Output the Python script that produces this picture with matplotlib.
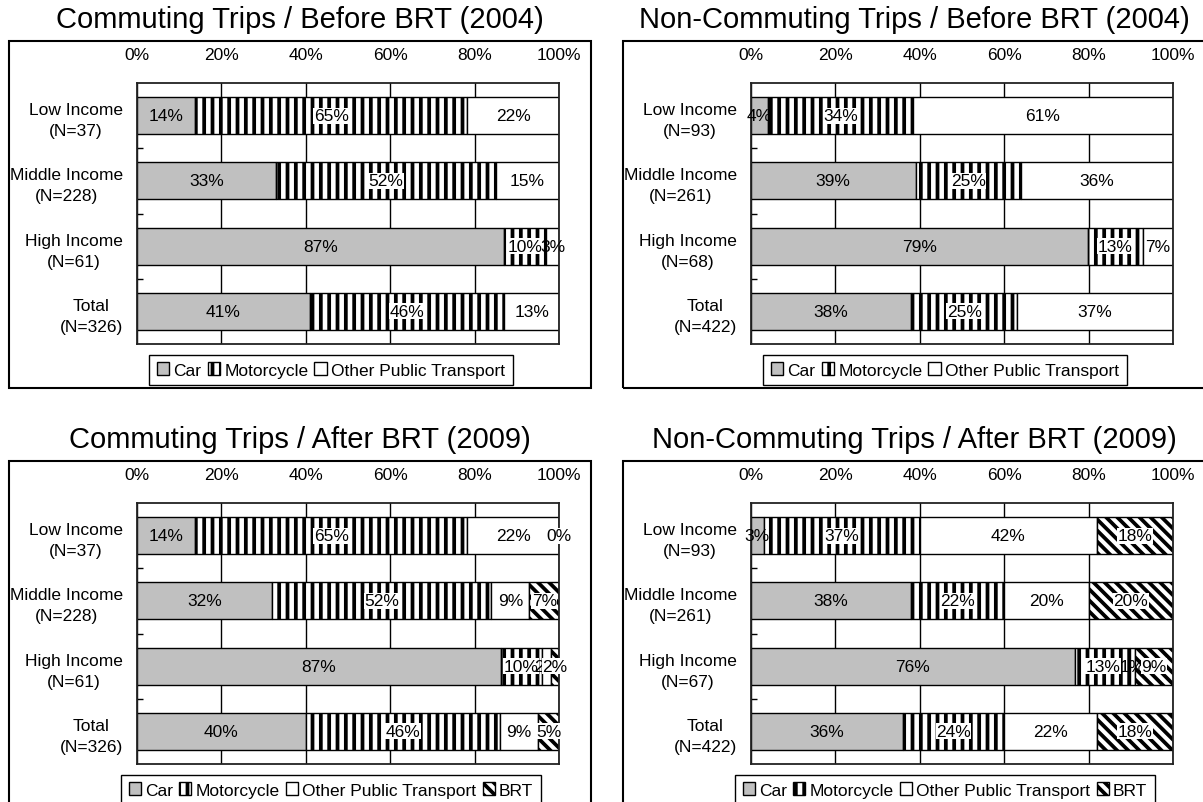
import numpy as np
import matplotlib.pyplot as plt
from matplotlib.patches import Patch, Rectangle

plt.rcParams['font.family'] = ['Liberation Sans', 'DejaVu Sans']
plt.rcParams['hatch.linewidth'] = 2.7

FIG_W, FIG_H = 1203, 803

CATEGORIES = ["Low Income", "Middle Income", "High Income", "Total"]
MODES_BEFORE = ["Car", "Motorcycle", "Other Public Transport"]
MODES_AFTER = ["Car", "Motorcycle", "Other Public Transport", "BRT"]

N_COMMUTE = [37, 228, 61, 326]
N_NONCOMMUTE_BEFORE = [93, 261, 68, 422]
N_NONCOMMUTE_AFTER = [93, 261, 67, 422]

# mode shares in %, one row per income group, one column per mode
COMMUTE_BEFORE = [[14, 65, 22], [33, 52, 15], [87, 10, 3], [41, 46, 13]]
NONCOMMUTE_BEFORE = [[4, 34, 61], [39, 25, 36], [79, 13, 7], [38, 25, 37]]
COMMUTE_AFTER = [[14, 65, 22, 0], [32, 52, 9, 7], [87, 10, 2, 2], [40, 46, 9, 5]]
NONCOMMUTE_AFTER = [[3, 37, 42, 18], [38, 22, 20, 20], [76, 13, 1, 9], [36, 24, 22, 18]]

X_TICKS = [0, 20, 40, 60, 80, 100]

MODE_STYLE = {
    "Car": dict(facecolor="#c0c0c0", hatch=None),
    "Motorcycle": dict(facecolor="white", hatch="||"),
    "Other Public Transport": dict(facecolor="white", hatch=None),
    "BRT": dict(facecolor="white", hatch="\\\\\\"),
}
BOXED_LABELS = {"Motorcycle", "BRT"}


def fx(x):
    return x / FIG_W


def fy(y):
    return 1 - y / FIG_H


def draw_panel(fig, ox, oy, title, data, n_list, modes):
    """One framed 100% stacked bar panel, ox/oy = pixel offset of the panel."""
    fig.add_artist(Rectangle((fx(9 + ox), fy(389 + oy)), 582 / FIG_W, 347 / FIG_H,
                             transform=fig.transFigure, fill=False,
                             edgecolor='black', linewidth=1.5))
    fig.text(fx(300 + ox), fy(20 + oy), title, ha='center', va='center', fontsize=21)

    ax = fig.add_axes([fx(137 + ox), fy(345 + oy), 422 / FIG_W, 261 / FIG_H])
    vals = np.array(data, dtype=float)
    shares = vals / vals.sum(axis=1, keepdims=True) * 100
    y = np.arange(len(CATEGORIES))
    left = np.zeros(len(CATEGORIES))

    for j, mode in enumerate(modes):
        st = MODE_STYLE[mode]
        ax.barh(y, shares[:, j], left=left, height=0.57, color=st['facecolor'],
                hatch=st['hatch'], edgecolor='black', linewidth=1)
        for i in range(len(y)):
            cx = left[i] + shares[i, j] / 2
            box = None
            if mode in BOXED_LABELS:
                box = dict(facecolor='white', edgecolor='none', pad=0.4)
            ax.text(cx, y[i], f"{int(vals[i, j])}%", ha='center', va='center',
                    fontsize=12.5, bbox=box)
        left += shares[:, j]

    ax.set_xlim(0, 100)
    ax.set_ylim(3.5, -0.5)
    ax.xaxis.tick_top()
    ax.set_xticks(X_TICKS)
    ax.set_xticklabels([f"{t}%" for t in X_TICKS])
    ax.tick_params(axis='x', length=0, pad=15, labelsize=12.5)
    ax.grid(axis='x', color='black', linewidth=1)
    ax.set_axisbelow(True)

    ax.set_yticks(y)
    ax.set_yticklabels([f"{c}\n(N={n})" for c, n in zip(CATEGORIES, n_list)])
    for lbl in ax.get_yticklabels():
        lbl.set_multialignment('center')
        lbl.set_linespacing(1.5)
    ax.tick_params(axis='y', length=0, pad=10, labelsize=12.5)
    ax.set_yticks([0.5, 1.5, 2.5], minor=True)
    ax.tick_params(axis='y', which='minor', direction='in', length=4, width=1)
    for sp in ax.spines.values():
        sp.set_color('#222222')
        sp.set_linewidth(1.3)

    handles = [Patch(facecolor=MODE_STYLE[m]['facecolor'], hatch=MODE_STYLE[m]['hatch'],
                     edgecolor='black', label=m) for m in modes]
    leg = ax.legend(handles=handles, loc='center',
                    bbox_to_anchor=(fx(331 + ox), fy(371 + oy)),
                    bbox_transform=fig.transFigure, ncol=len(modes), fontsize=12.5,
                    handlelength=0.7, handleheight=0.7, handletextpad=0.25,
                    columnspacing=0.35, borderpad=0.45, fancybox=False,
                    framealpha=1, edgecolor='black')
    leg.get_frame().set_linewidth(1)
    return ax


fig = plt.figure(figsize=(FIG_W / 100, FIG_H / 100), dpi=100)

draw_panel(fig, 0, 0, "Commuting Trips / Before BRT (2004)",
           COMMUTE_BEFORE, N_COMMUTE, MODES_BEFORE)
draw_panel(fig, 614, 0, "Non-Commuting Trips / Before BRT (2004)",
           NONCOMMUTE_BEFORE, N_NONCOMMUTE_BEFORE, MODES_BEFORE)
draw_panel(fig, 0, 420, "Commuting Trips / After BRT (2009)",
           COMMUTE_AFTER, N_COMMUTE, MODES_AFTER)
draw_panel(fig, 614, 420, "Non-Commuting Trips / After BRT (2009)",
           NONCOMMUTE_AFTER, N_NONCOMMUTE_AFTER, MODES_AFTER)

fig.savefig('out.png', dpi=100)
